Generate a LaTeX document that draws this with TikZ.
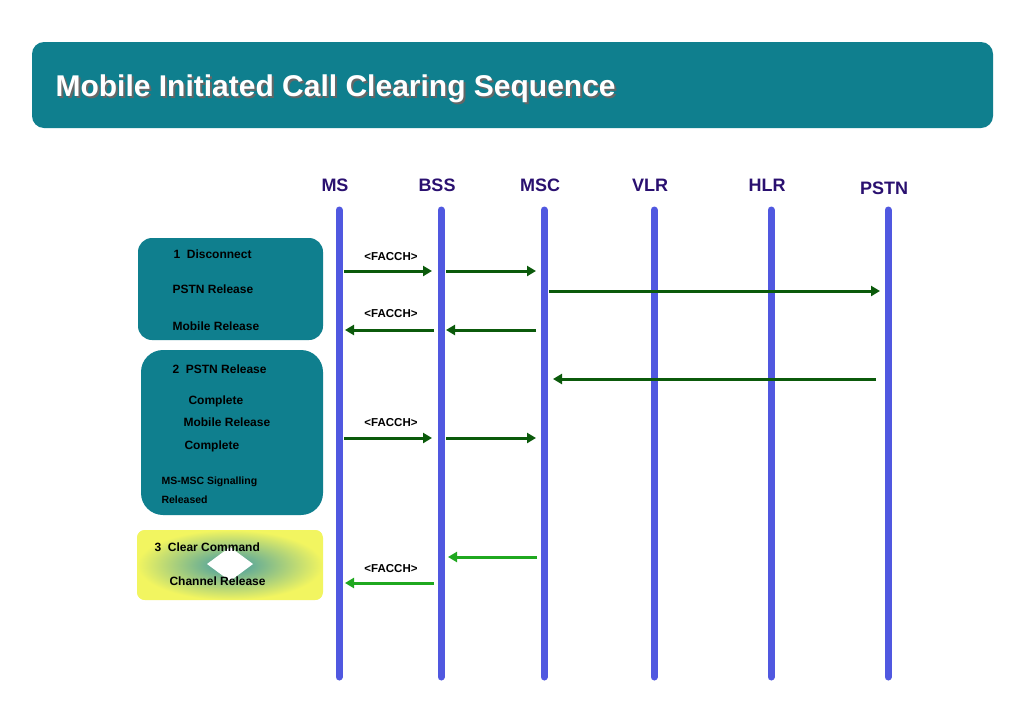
\documentclass[tikz,border=0pt]{standalone}
\usepackage{fontspec}
\setmainfont{Liberation Sans}
\usetikzlibrary{shapes.geometric,arrows.meta}
\definecolor{teal1}{HTML}{0F7F8E}
\definecolor{hdr}{HTML}{2A1070}
\definecolor{lane}{HTML}{5058E0}
\definecolor{dg}{HTML}{0B5A0B}
\definecolor{lg}{HTML}{1FA81F}
\definecolor{yel}{HTML}{F2F560}
\begin{document}
\begin{tikzpicture}[x=1pt,y=-1pt,
  hd/.style={font=\bfseries\fontsize{18}{20}\selectfont,text=hdr,anchor=base},
  ln/.style={lane,line width=7pt},
  msg/.style={line width=3pt,-{Triangle[length=9pt,width=10pt]}},
  bt/.style={font=\bfseries\fontsize{12}{14}\selectfont,anchor=base west},
  fa/.style={font=\bfseries\fontsize{11.5}{13}\selectfont,anchor=base}]
\useasboundingbox (0,0) rectangle (1024,723);
\fill[white] (0,0) rectangle (1024,723);
\fill[teal1,rounded corners=12pt] (32,42) rectangle (993,128);
\node[font=\bfseries\fontsize{30}{34}\selectfont,text=black!60,anchor=base west] at (54,98) {Mobile Initiated Call Clearing Sequence};
\node[font=\bfseries\fontsize{30}{34}\selectfont,text=white,anchor=base west] (title) at (52,96) {Mobile Initiated Call Clearing Sequence};
\foreach \n/\x/\t/\y in {ms/339/MS/191,bss/441/BSS/191,msc/544/MSC/191,vlr/654/VLR/191,hlr/771/HLR/191,pstn/888/PSTN/194}{
  \node[hd] (h\n) at (\x-4,\y) {\t};
  \coordinate (\n t) at (\x,210);
  \coordinate (\n b) at (\x,677);
  \draw[ln,line cap=round] (\n t) -- (\n b);
}
% boxes
\fill[teal1,rounded corners=14pt] (138,238) rectangle (323,340);
\fill[teal1,rounded corners=22pt] (141,350) rectangle (323,515);
\begin{scope}
\clip[rounded corners=8pt] (137,530) rectangle (323,600);
\fill[yel] (137,530) rectangle (323,600);
\shade[inner color=teal1!80,outer color=yel] (137,530) rectangle (323,600);
\end{scope}
\fill[white] (230,547) -- (253,564) -- (230,581) -- (207,564) -- cycle;
\node[bt] at (170,258) {1~~Disconnect};
\node[bt] at (169,293) {PSTN Release};
\node[bt] at (169,330) {Mobile Release};
\node[bt] at (169,373) {2~~PSTN Release};
\node[bt] at (185,404) {Complete};
\node[bt] at (180,426) {Mobile Release};
\node[bt] at (181,449) {Complete};
\node[bt,font=\bfseries\fontsize{10.5}{12}\selectfont] at (158,484) {MS-MSC Signalling};
\node[bt,font=\bfseries\fontsize{10.5}{12}\selectfont] at (158,503) {Released};
\node[bt] at (151,551) {3~~Clear Command};
\node[bt] at (166,585) {Channel Release};
% FACCH labels
\foreach \y in {260,317,426,572}{\node[fa] at (391,\y) {<FACCH>};}
% arrows
\coordinate (a1) at (344,271); \coordinate (a2) at (432,271);
\coordinate (a3) at (446,271); \coordinate (a4) at (536,271);
\draw[msg,dg] (a1) -- (a2); \draw[msg,dg] (a3) -- (a4);
\coordinate (b1) at (549,291); \coordinate (b2) at (880,291);
\draw[msg,dg] (b1) -- (b2);
\coordinate (c1) at (536,330); \coordinate (c2) at (446,330);
\coordinate (c3) at (434,330); \coordinate (c4) at (345,330);
\draw[msg,dg] (c1) -- (c2); \draw[msg,dg] (c3) -- (c4);
\coordinate (d1) at (876,379); \coordinate (d2) at (553,379);
\draw[msg,dg] (d1) -- (d2);
\coordinate (e1) at (344,438); \coordinate (e2) at (432,438);
\coordinate (e3) at (446,438); \coordinate (e4) at (536,438);
\draw[msg,dg] (e1) -- (e2); \draw[msg,dg] (e3) -- (e4);
\coordinate (f1) at (537,557); \coordinate (f2) at (448,557);
\draw[msg,lg] (f1) -- (f2);
\coordinate (g1) at (434,583); \coordinate (g2) at (345,583);
\draw[msg,lg] (g1) -- (g2);
\end{tikzpicture}
\end{document}
